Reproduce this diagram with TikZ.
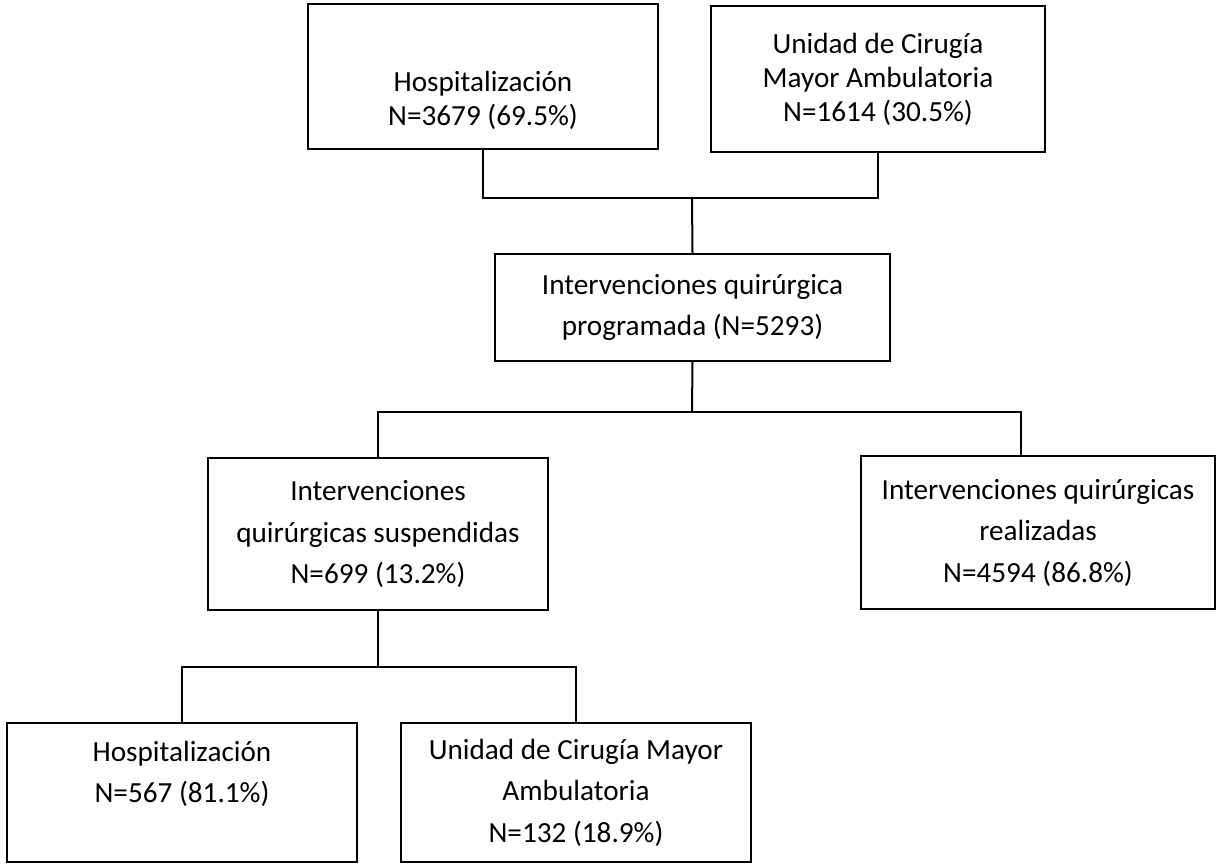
\documentclass[tikz,border=0pt]{standalone}
\usepackage{fontspec}
\setmainfont{Carlito}
\usepackage{tikz}
\newcommand{\tightfont}{\fontsize{14.6}{17}\selectfont}
\newcommand{\loosefont}{\fontsize{14.6}{20.75}\selectfont}

\begin{document}
\begin{tikzpicture}[x=0.5pt,y=-0.5pt,
 caja/.style={draw,line width=1pt,inner sep=0pt,align=center},
 linea/.style={line width=1pt}]
 \useasboundingbox (0,0) rectangle (1217,865);
 % origen
 \node[caja,font=\tightfont,minimum width=175pt,minimum height=72.5pt] (hospA) at (483,76.5)
  {\rule{0pt}{17pt}\\Hospitalización\\N=3679 (69.5\%)};
 \node[caja,font=\tightfont,minimum width=167pt,minimum height=73pt] (ucmaA) at (878,79)
  {Unidad de Cirugía\\Mayor Ambulatoria\\N=1614 (30.5\%)};
 %
 \node[caja,font=\loosefont,minimum width=197.5pt,minimum height=53.5pt] (prog) at (692.5,307.5)
  {Intervenciones quirúrgica\\programada (N=5293)};
 %
 \node[caja,font=\loosefont,minimum width=170pt,minimum height=76pt] (susp) at (378,534)
  {Intervenciones\\quirúrgicas suspendidas\\N=699 (13.2\%)};
 \node[caja,font=\loosefont,minimum width=177pt,minimum height=76.5pt] (real) at (1038,532.5)
  {Intervenciones quirúrgicas\\realizadas\\N=4594 (86.8\%)};
 % suspendidas
 \node[caja,font=\loosefont,minimum width=175pt,minimum height=69.5pt] (hospB) at (182,792.5)
  {Hospitalización\\N=567 (81.1\%)\\\mbox{}};
 \node[caja,font=\loosefont,minimum width=175pt,minimum height=69.5pt] (ucmaB) at (576,792.5)
  {Unidad de Cirugía Mayor\\Ambulatoria\\N=132 (18.9\%)};
 %
 \coordinate (uneA) at (692,198);
 \coordinate (uneB) at (692,412);
 \coordinate (uneBder) at (1021,412);
 \coordinate (uneC) at (378,667);
 \draw[linea] (hospA.south) |- (uneA) -| (ucmaA.south);
 \draw[linea] (uneA) -- (prog.north);
 \draw[linea] (prog.south) -- (uneB);
 \draw[linea] (susp.north) |- (uneBder) -- (uneBder |- real.north);
 \draw[linea] (susp.south) -- (uneC);
 \draw[linea] (hospB.north) |- (uneC) -| (ucmaB.north);
\end{tikzpicture}
\end{document}
